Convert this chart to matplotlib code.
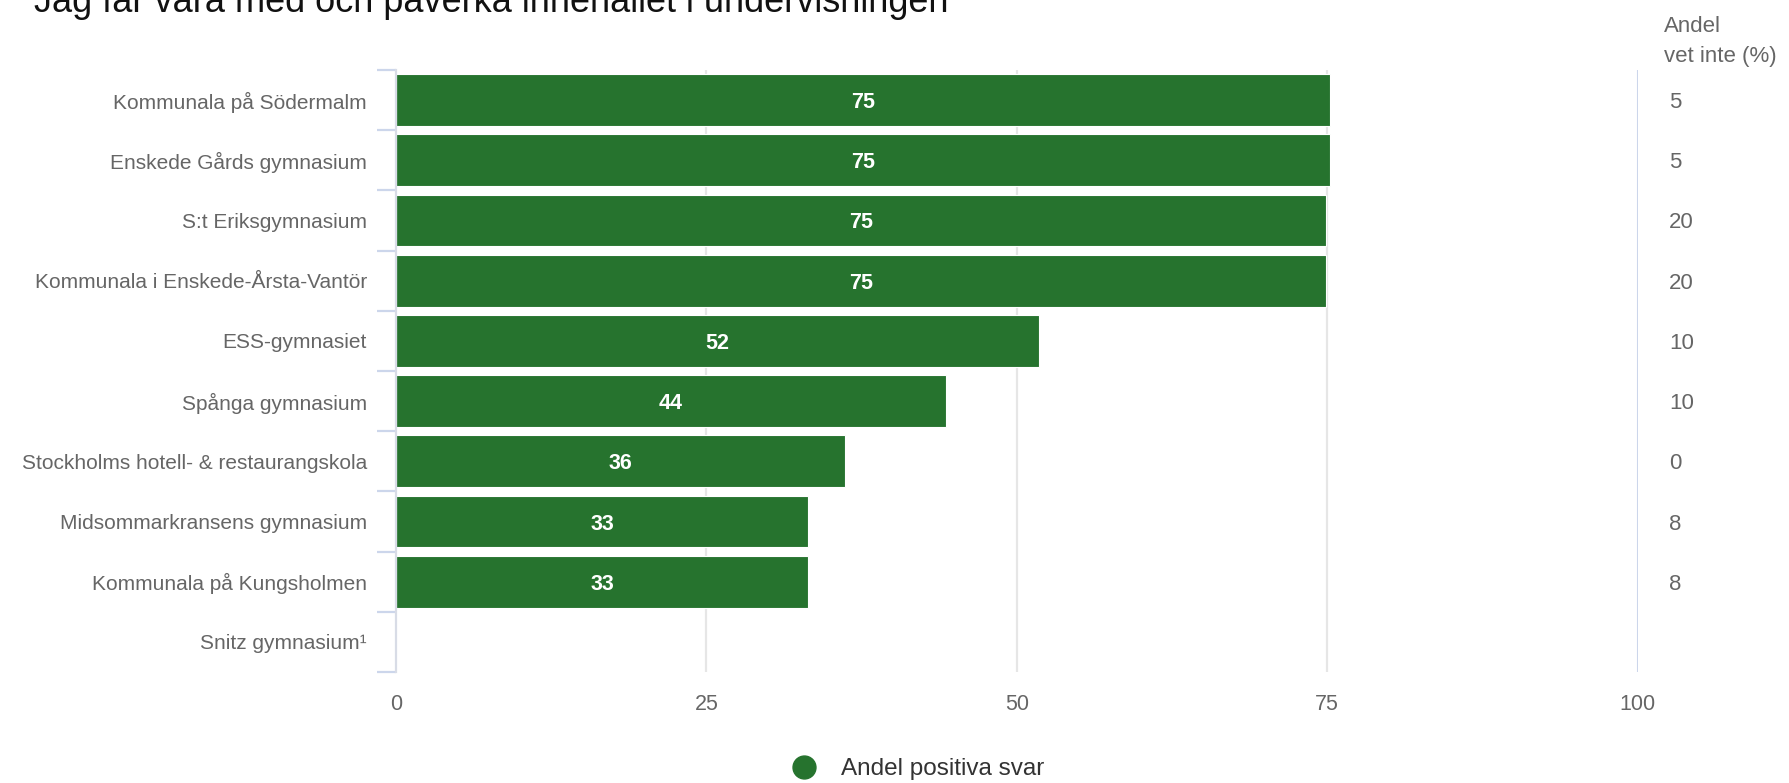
import matplotlib
matplotlib.use("Agg")
import matplotlib.pyplot as plt
from matplotlib.lines import Line2D

plt.rcParams['font.family'] = ['Liberation Sans', 'DejaVu Sans']

title = "Jag får vara med och påverka innehållet i undervisningen"
categories = [
    "Kommunala på Södermalm",
    "Enskede Gårds gymnasium",
    "S:t Eriksgymnasium",
    "Kommunala i Enskede-Årsta-Vantör",
    "ESS-gymnasiet",
    "Spånga gymnasium",
    "Stockholms hotell- & restaurangskola",
    "Midsommarkransens gymnasium",
    "Kommunala på Kungsholmen",
    "Snitz gymnasium¹",
]
positive = [75.2, 75.2, 74.9, 74.9, 51.8, 44.3, 36.2, 33.2, 33.2, None]
dont_know = ["5", "5", "20", "20", "10", "10", "0", "8", "8", ""]
xticks = [0, 25, 50, 75, 100]
series_name = "Andel positiva svar"
right_header = ["Andel", "vet inte (%)"]

GREEN = "#26732e"
LABEL = "#666666"
W, H = 1789, 783
TOP, BOT = 70, 672
ROW = (BOT - TOP) / len(categories)

fig = plt.figure(figsize=(W / 100, H / 100), dpi=100)
ax = fig.add_axes([396 / W, 1 - BOT / H, (1637.7 - 396) / W, (BOT - TOP) / H])

n = len(categories)
ypos = list(range(n))
vals = [v if v is not None else 0 for v in positive]
ax.barh(ypos, vals, height=0.86, color=GREEN, edgecolor="white",
        linewidth=0.8, zorder=3)
for y, v in zip(ypos, positive):
    if v is not None and v > 0:
        ax.text(v / 2, y, f"{round(v)}", ha="center", va="center_baseline",
                color="white", fontsize=15.5, fontweight="bold", zorder=4)

ax.set_xlim(0, 100)
ax.set_ylim(n - 0.5, -0.5)

for xv in xticks[1:-1]:
    ax.axvline(xv, color="#e6e6e6", lw=1.6, zorder=1)
ax.axvline(100, color="#ccd6eb", lw=2.2, zorder=2)

for s in ["top", "right", "bottom"]:
    ax.spines[s].set_visible(False)
ax.spines["left"].set_color("#d8dce6")
ax.spines["left"].set_linewidth(1.6)
ax.spines["left"].set_zorder(5)

ax.set_yticks(ypos)
ax.set_yticklabels(categories, fontsize=15, color=LABEL)
for lab in ax.get_yticklabels():
    lab.set_va("center_baseline")
ax.tick_params(axis="y", which="major", length=0, pad=21)
ax.set_yticks([i - 0.5 for i in range(n + 1)], minor=True)
ax.tick_params(axis="y", which="minor", length=13.5, width=1.6, color="#ccd6eb")

ax.set_xticks(xticks)
ax.set_xticklabels([str(t) for t in xticks], fontsize=15.5, color=LABEL)
ax.tick_params(axis="x", length=0, pad=16)

# right-hand column: share "don't know"
for y, t in zip(ypos, dont_know):
    fig.text(1669 / W, 1 - (TOP + ROW * (y + 0.5)) / H, t, ha="left",
             va="center_baseline", fontsize=16, color=LABEL)
fig.text(1664 / W, 1 - 32 / H, right_header[0], ha="left", va="baseline",
         fontsize=16, color=LABEL)
fig.text(1664 / W, 1 - 62 / H, right_header[1], ha="left", va="baseline",
         fontsize=16, color=LABEL)

fig.text(34 / W, 1 - 12 / H, title, ha="left", va="baseline", fontsize=26,
         color="#111111")

handle = Line2D([], [], marker="o", linestyle="none", markersize=16.5,
                markerfacecolor=GREEN, markeredgecolor=GREEN)
fig.legend([handle], [series_name], loc="center", bbox_to_anchor=(912 / W, 1 - 769 / H),
           frameon=False, fontsize=17.5, labelcolor="#333333", handletextpad=0.5,
           borderaxespad=0, borderpad=0)

fig.savefig("out.png", dpi=100)
